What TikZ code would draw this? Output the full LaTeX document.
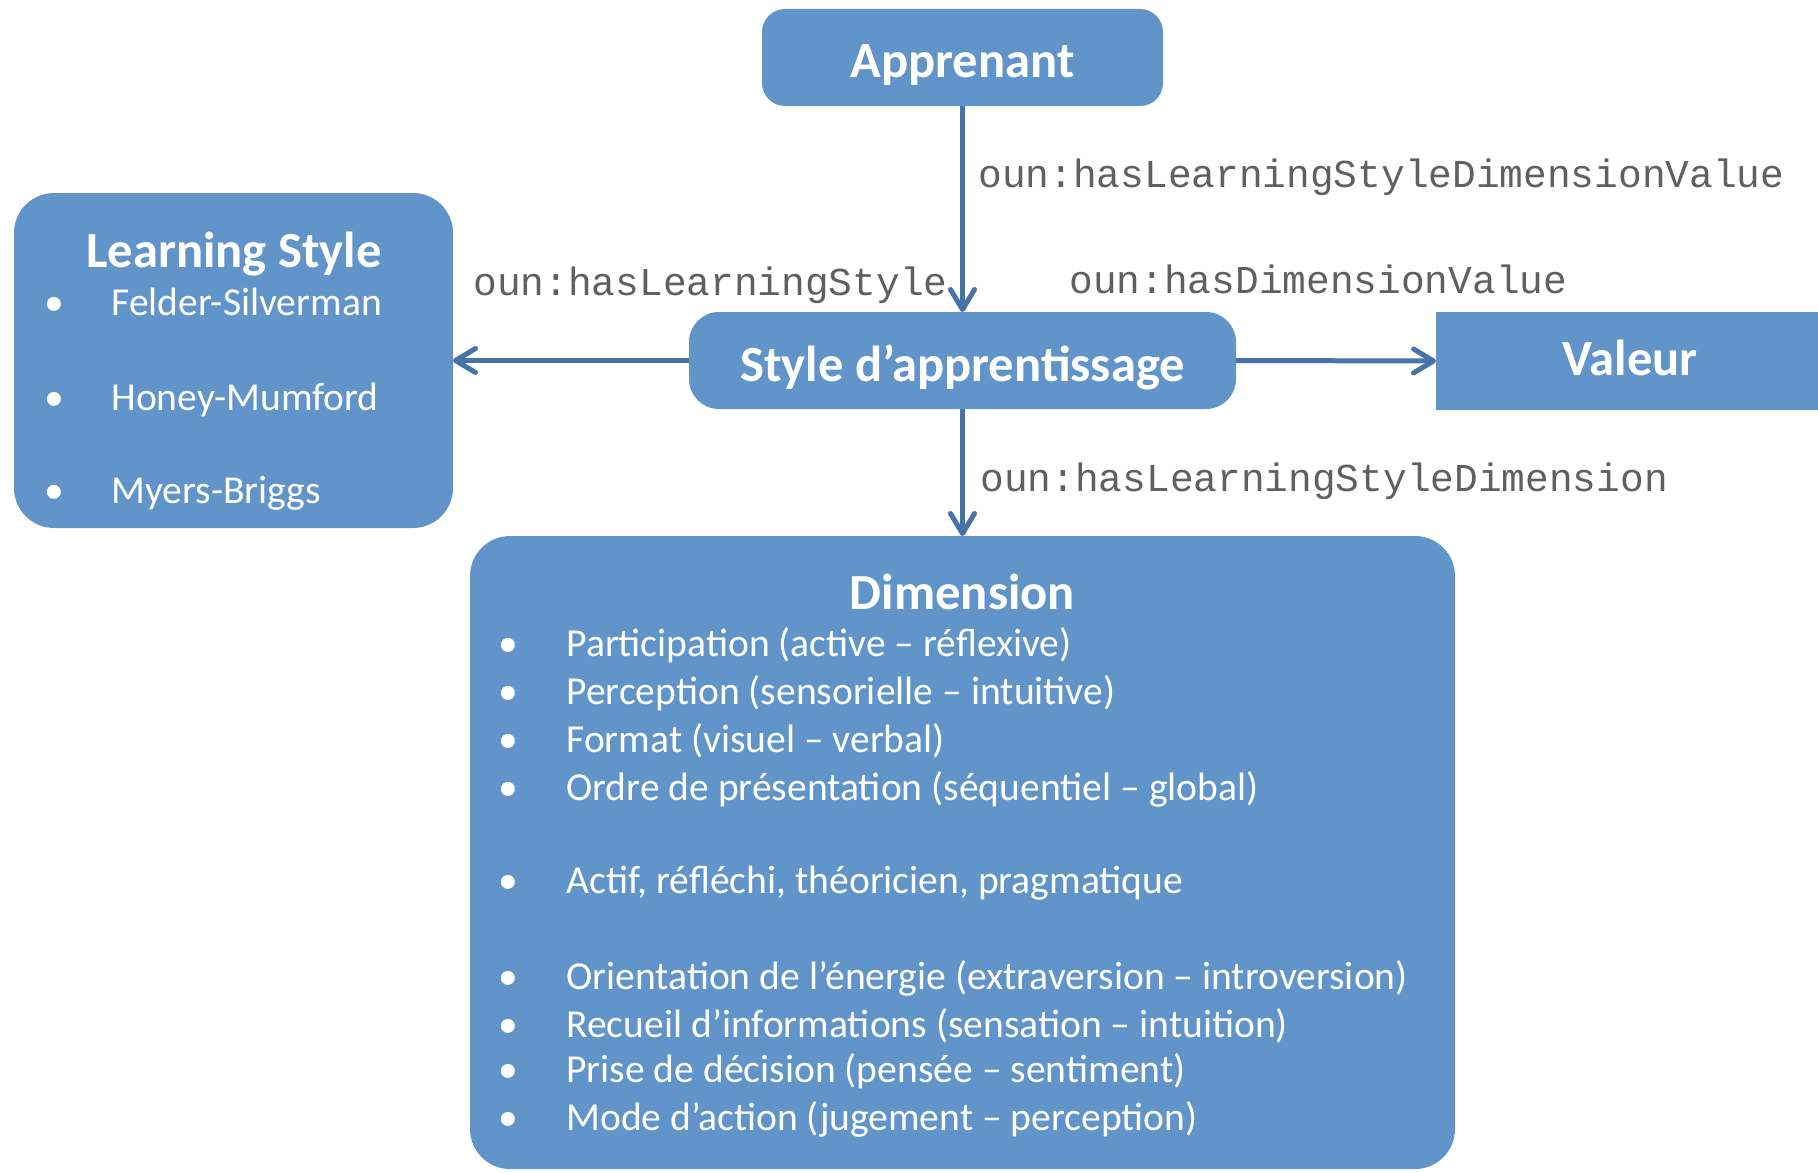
\documentclass[tikz,border=0pt]{standalone}
\usepackage{fontspec}
\setmainfont{Carlito}
\newfontfamily\codefont{Liberation Mono}
\usetikzlibrary{arrows.meta,fit}
\definecolor{boxblue}{RGB}{97,148,200}
\definecolor{linkblue}{RGB}{70,116,166}
\definecolor{labelgray}{RGB}{96,96,96}
\begin{document}
\begin{tikzpicture}[x=0.5pt,y=-0.5pt,
  box/.style={fill=boxblue, draw=none, inner sep=0pt, outer sep=0pt},
  title/.style={text=white, font=\fontsize{25.3}{30}\selectfont\bfseries, anchor=base, inner sep=0pt},
  item/.style={text=white, font=\fontsize{19.8}{24}\selectfont, anchor=base west, inner sep=0pt},
  dot/.style={text=white, font=\fontsize{19.8}{24}\selectfont, anchor=base, inner sep=0pt},
  rel/.style={text=labelgray, font=\codefont\fontsize{19.75}{24}\selectfont, anchor=base west, inner sep=0pt},
  link/.style={draw=linkblue, line width=2.5pt, -{Straight Barb[length=10pt,width=12pt,round]}}
]
\useasboundingbox (0,0) rectangle (1818,1172);

% boxes
\node[box, rounded corners=11.5pt, fit={(762,9) (1163,106)}] (app) {};
\node[box, rounded corners=20pt, fit={(14,193) (453,528)}] (ls) {};
\node[box, rounded corners=15pt, fit={(689,312) (1236,409)}] (sty) {};
\node[box, fit={(1436,312) (1818,410)}] (val) {};
\node[box, rounded corners=20pt, fit={(470,536) (1455,1169)}] (dim) {};

% titles
\node[title] (tapp) at (962.5,77) {Apprenant};
\node[title] (tsty) at (962.5,381) {Style d’apprentissage};
\node[title] (tval) at (1630,375) {Valeur};
\node[title] (tls) at (234,267) {Learning Style};
\node[title] (tdim) at (962.5,609) {Dimension};

% learning style list
\foreach \y/\t [count=\i] in {315/Felder-Silverman, 410/Honey-Mumford, 503/Myers-Briggs}{
  \node[dot] (lsb\i) at (54,\y) {•};
  \node[item] (lsi\i) at (111,\y) {\t};
}

% dimension list
\foreach \y/\t [count=\i] in {
  656/{Participation (active – réflexive)},
  704/{Perception (sensorielle – intuitive)},
  752/{Format (visuel – verbal)},
  800/{Ordre de présentation (séquentiel – global)},
  893/{Actif, réfléchi, théoricien, pragmatique},
  989/{Orientation de l’énergie (extraversion – introversion)},
  1037/{Recueil d’informations (sensation – intuition)},
  1082/{Prise de décision (pensée – sentiment)},
  1130/{Mode d’action (jugement – perception)}}{
  \node[dot] (db\i) at (508,\y) {•};
  \node[item] (di\i) at (566,\y) {\t};
}

% relations
\draw[link] (app.south) -- (sty.north);
\draw[link] (sty.west) -- (ls.east);
\draw[link] (sty.east) -- (val.west);
\draw[link] (sty.south) -- (dim.north);

\node[rel] (r1) at (978,187) {oun:hasLearningStyleDimensionValue};
\node[rel] (r2) at (473,295) {oun:hasLearningStyle};
\node[rel] (r3) at (1069,293) {oun:hasDimensionValue};
\node[rel] (r4) at (980,491) {oun:hasLearningStyleDimension};
\end{tikzpicture}
\end{document}
